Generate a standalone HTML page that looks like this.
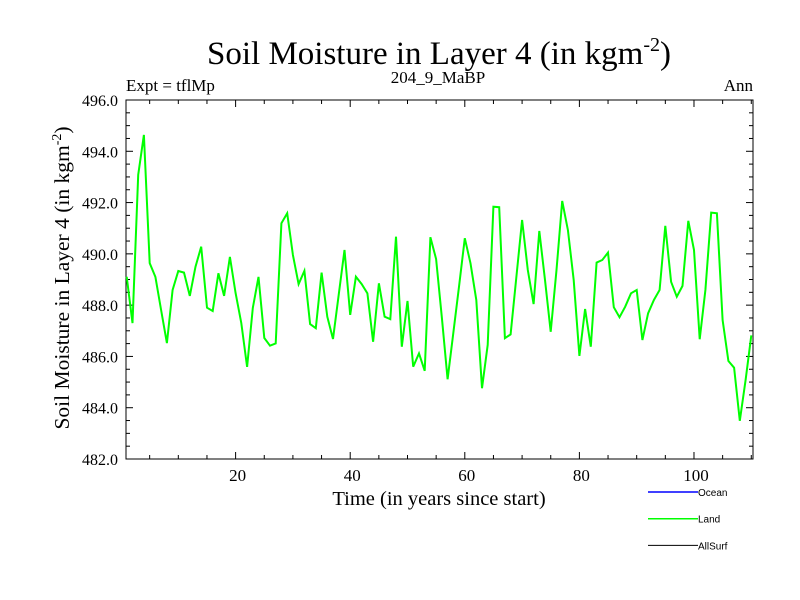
<!DOCTYPE html>
<html><head><meta charset="utf-8"><style>
html,body{margin:0;padding:0;background:#fff;width:800px;height:600px;overflow:hidden}
svg{display:block}
</style></head><body>
<svg id="chart" width="800" height="600" xmlns="http://www.w3.org/2000/svg" font-family="'Liberation Serif', serif">
<text x="439" y="64" font-size="33" text-anchor="middle">Soil Moisture in Layer 4 (in kgm<tspan dy="-13" font-size="20">-2</tspan><tspan dy="13">)</tspan></text>
<text x="126" y="91" font-size="17">Expt = tflMp</text>
<text x="438" y="83" font-size="17" text-anchor="middle">204_9_MaBP</text>
<text x="753" y="91" font-size="17" text-anchor="end">Ann</text>
<text transform="translate(69,278) rotate(-90)" font-size="21.5" text-anchor="middle">Soil Moisture in Layer 4 (in kgm<tspan dy="-8" font-size="14">-2</tspan><tspan dy="8">)</tspan></text>
<text x="439" y="505" font-size="20.5" text-anchor="middle">Time (in years since start)</text>
<g id="axes"></g>
<g id="series"></g>
<g id="legend" font-family="'Liberation Sans', sans-serif" font-size="10"></g>
</svg>
<script>
const years = [];
const landValues = [489.11,487.30,493.08,494.64,489.64,489.10,487.81,486.52,488.59,489.33,489.27,488.36,489.50,490.28,487.90,487.77,489.24,488.36,489.88,488.47,487.30,485.59,487.89,489.10,486.72,486.42,486.51,491.19,491.58,489.96,488.82,489.34,487.26,487.10,489.27,487.55,486.68,488.40,490.15,487.62,489.11,488.82,488.46,486.57,488.85,487.55,487.45,490.67,486.38,488.16,485.60,486.12,485.44,490.65,489.80,487.50,485.11,486.91,488.75,490.61,489.63,488.20,484.76,486.45,491.84,491.82,486.71,486.86,489.11,491.32,489.37,488.04,490.89,488.98,486.96,489.37,492.06,490.93,488.98,486.02,487.85,486.38,489.66,489.76,490.05,487.92,487.53,487.94,488.46,488.59,486.64,487.68,488.20,488.59,491.09,488.91,488.33,488.75,491.29,490.15,486.67,488.59,491.61,491.58,487.42,485.82,485.56,483.49,485.08,486.82];
for (let i = 0; i < landValues.length; i++) years.push(i + 1);
const xTickValues = [20,40,60,80,100];
const xTickLabels = ["20","40","60","80","100"];
const yTickValues = [482,484,486,488,490,492,494,496];
const yTickLabels = ["482.0","484.0","486.0","488.0","490.0","492.0","494.0","496.0"];
const legendLabels = ["Ocean","Land","AllSurf"];
const legendColors = ["#0000ff","#00ff00","#000000"];

const L=126,R=753,T=100,B=459;
const xMin=0.87,xMax=110.3,yMin=482,yMax=496;
const xs=v=>L+(v-xMin)/(xMax-xMin)*(R-L);
const ys=v=>B-(v-yMin)/(yMax-yMin)*(B-T);
const NS="http://www.w3.org/2000/svg";
function mk(tag,attrs,parent){const e=document.createElementNS(NS,tag);for(const k in attrs)e.setAttribute(k,attrs[k]);parent.appendChild(e);return e;}
const axes=document.getElementById('axes');
const frame=mk('rect',{x:L,y:T,width:R-L,height:B-T,fill:'none',stroke:'#000','stroke-width':1},axes);


for(let t=5;t<=xMax;t+=5){
  const x=xs(t);const major=t%20===0;const len=major?7:4;
  const a=mk('line',{x1:x,x2:x,y1:B,y2:B-len,stroke:'#000'},axes);
  
  
  const b=mk('line',{x1:x,x2:x,y1:T,y2:T+len,stroke:'#000'},axes);
  
  
}
xTickValues.forEach((v,i)=>{
  const t=mk('text',{x:xs(v)+2,y:B+22,'font-size':17,'text-anchor':'middle'},axes);
  t.textContent=xTickLabels[i];
  
  
});
for(let v=yMin+0.5;v<yMax;v+=0.5){
  const y=ys(v);const major=Math.abs(v-Math.round(v))<1e-6&&Math.round(v)%2===0;const len=major?7:4;
  const a=mk('line',{x1:L,x2:L+len,y1:y,y2:y,stroke:'#000'},axes);
  
  
  const b=mk('line',{x1:R,x2:R-len,y1:y,y2:y,stroke:'#000'},axes);
  
  
}
yTickValues.forEach((v,i)=>{
  const t=mk('text',{x:L-8,y:ys(v)+6,'font-size':16,'text-anchor':'end'},axes);
  t.textContent=yTickLabels[i];
  
  
});
const series=document.getElementById('series');
const pts=landValues.map((v,i)=>xs(years[i]).toFixed(1)+','+ys(v).toFixed(1)).join(' ');
const line=mk('polyline',{points:pts,fill:'none',stroke:'#00ff00','stroke-width':2,'stroke-linejoin':'miter'},series);


const legend=document.getElementById('legend');
legendLabels.forEach((lab,i)=>{
  const y=492+i*26.7;
  const l=mk('line',{x1:648,x2:698,y1:y,y2:y,stroke:legendColors[i],'stroke-width':i<2?1.5:1},legend);
  
  
  const t=mk('text',{x:698,y:y+4},legend);
  t.textContent=lab;
  
  
});
</script>
</body></html>
